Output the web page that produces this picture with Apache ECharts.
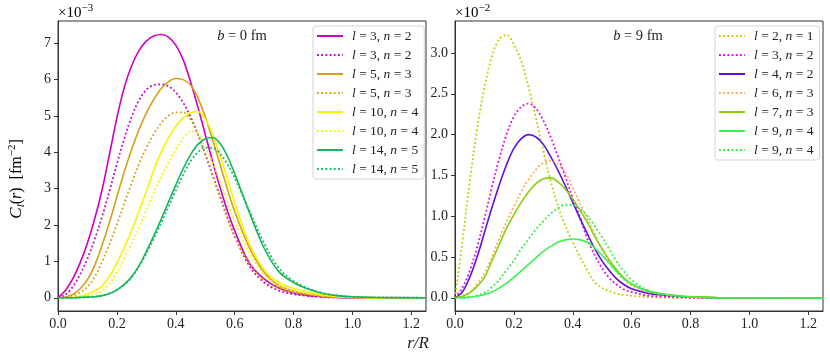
<!DOCTYPE html>
<html>
<head>
<meta charset="utf-8">
<script src="https://cdn.jsdelivr.net/npm/echarts@6/dist/echarts.min.js"></script>
<style>
  html, body { margin: 0; padding: 0; background: #fff; }
  #main { width: 830px; height: 361px; }
</style>
</head>
<body>
<div id="main"></div>
<script>
// r/R sample points shared by every curve
const rGrid = [0, 0.025, 0.05, 0.075, 0.1, 0.125, 0.15, 0.175, 0.2, 0.225, 0.25, 0.275, 0.3, 0.325, 0.35, 0.375,
  0.4, 0.425, 0.45, 0.475, 0.5, 0.525, 0.55, 0.575, 0.6, 0.65, 0.7, 0.75, 0.8, 0.85, 0.9, 0.95, 1.0, 1.1, 1.25]

// b = 0 fm, values in units of 1e-3 fm^-2
const b0_l3n2_solid = [0, 0.2, 0.52, 0.96, 1.51, 2.18, 2.98, 3.95, 4.95, 5.78, 6.38, 6.8, 7.06, 7.2, 7.24, 7.17,
  6.95, 6.55, 5.95, 5.25, 4.5, 3.75, 3.05, 2.4, 1.85, 0.95, 0.52, 0.27, 0.13, 0.06, 0.03, 0.01, 0, 0, 0]
const b0_l3n2_dot = [0, 0.08, 0.3, 0.64, 1.08, 1.62, 2.24, 2.94, 3.68, 4.38, 4.98, 5.43, 5.72, 5.85, 5.87, 5.82,
  5.65, 5.37, 4.98, 4.5, 3.95, 3.37, 2.8, 2.22, 1.7, 0.88, 0.42, 0.2, 0.1, 0.05, 0.02, 0.01, 0, 0, 0]
const b0_l5n3_solid = [0, 0.02, 0.09, 0.25, 0.5, 0.9, 1.45, 2.08, 2.78, 3.46, 4.08, 4.62, 5.08, 5.45, 5.75, 5.94,
  6.03, 6.0, 5.85, 5.5, 4.98, 4.35, 3.68, 3.0, 2.38, 1.38, 0.7, 0.34, 0.19, 0.1, 0.05, 0.02, 0.01, 0, 0]
const b0_l5n3_dot = [0, 0.01, 0.05, 0.15, 0.3, 0.58, 1.0, 1.48, 2.02, 2.6, 3.15, 3.68, 4.12, 4.5, 4.8, 5.0,
  5.1, 5.1, 4.9, 4.5, 3.98, 3.38, 2.77, 2.2, 1.7, 0.95, 0.48, 0.26, 0.15, 0.08, 0.04, 0.02, 0.01, 0, 0]
const b0_l10n4_solid = [0, 0, 0.01, 0.04, 0.1, 0.19, 0.33, 0.6, 0.95, 1.38, 1.85, 2.38, 2.93, 3.5, 4.0, 4.4,
  4.72, 4.95, 5.09, 5.12, 4.92, 4.5, 3.92, 3.28, 2.62, 1.48, 0.78, 0.42, 0.26, 0.15, 0.08, 0.04, 0.02, 0, 0]
const b0_l10n4_dot = [0, 0, 0.01, 0.03, 0.05, 0.1, 0.2, 0.38, 0.7, 1.1, 1.5, 1.92, 2.4, 2.88, 3.32, 3.72,
  4.08, 4.38, 4.58, 4.52, 4.15, 3.72, 3.2, 2.65, 2.12, 1.22, 0.64, 0.33, 0.2, 0.12, 0.06, 0.03, 0.01, 0, 0]
const b0_l14n5_solid = [0, 0, 0, 0.01, 0.02, 0.03, 0.06, 0.12, 0.22, 0.37, 0.58, 0.88, 1.27, 1.7, 2.15, 2.63,
  3.1, 3.55, 3.93, 4.22, 4.37, 4.41, 4.25, 3.9, 3.42, 2.35, 1.37, 0.72, 0.42, 0.24, 0.12, 0.06, 0.03, 0.01, 0]
const b0_l14n5_dot = [0, 0, 0, 0.01, 0.02, 0.03, 0.06, 0.12, 0.22, 0.36, 0.56, 0.86, 1.22, 1.62, 2.05, 2.5,
  2.95, 3.38, 3.75, 4.0, 4.13, 4.12, 3.97, 3.68, 3.3, 2.4, 1.5, 0.82, 0.46, 0.26, 0.13, 0.06, 0.03, 0.01, 0]

// b = 9 fm, values in units of 1e-2 fm^-2
const b9_l2n1_dot = [0, 0.68, 1.42, 2.07, 2.58, 2.95, 3.17, 3.22, 3.1, 2.9, 2.58, 2.2, 1.8, 1.43, 1.12, 0.88,
  0.68, 0.5, 0.33, 0.19, 0.12, 0.08, 0.05, 0.035, 0.025, 0.01, 0.005, 0, 0, 0, 0, 0, 0, 0, 0]
const b9_l3n2_dot = [0, 0.12, 0.33, 0.62, 0.97, 1.35, 1.7, 2.0, 2.22, 2.34, 2.38, 2.32, 2.17, 1.97, 1.73, 1.48,
  1.22, 0.98, 0.72, 0.52, 0.36, 0.24, 0.16, 0.1, 0.07, 0.03, 0.015, 0.01, 0, 0, 0, 0, 0, 0, 0]
const b9_l4n2_solid = [0, 0.07, 0.25, 0.5, 0.8, 1.1, 1.38, 1.63, 1.83, 1.95, 2.0, 1.97, 1.88, 1.73, 1.56, 1.37,
  1.17, 0.97, 0.78, 0.6, 0.45, 0.33, 0.23, 0.16, 0.11, 0.06, 0.035, 0.02, 0.01, 0.005, 0, 0, 0, 0, 0]
const b9_l6n3_dot = [0, 0.02, 0.07, 0.17, 0.3, 0.5, 0.72, 0.93, 1.12, 1.3, 1.45, 1.57, 1.65, 1.68, 1.64, 1.53,
  1.35, 1.15, 0.97, 0.78, 0.58, 0.44, 0.31, 0.22, 0.15, 0.08, 0.04, 0.02, 0.01, 0.005, 0, 0, 0, 0, 0]
const b9_l7n3_solid = [0, 0.02, 0.06, 0.14, 0.25, 0.45, 0.65, 0.85, 1.02, 1.17, 1.3, 1.4, 1.46, 1.47, 1.42, 1.33,
  1.21, 1.07, 0.92, 0.75, 0.6, 0.46, 0.34, 0.24, 0.17, 0.09, 0.05, 0.03, 0.015, 0.01, 0, 0, 0, 0, 0]
const b9_l9n4_solid = [0, 0, 0.01, 0.02, 0.04, 0.07, 0.12, 0.18, 0.25, 0.33, 0.41, 0.49, 0.57, 0.63, 0.68, 0.71,
  0.72, 0.71, 0.68, 0.61, 0.52, 0.42, 0.32, 0.23, 0.17, 0.09, 0.05, 0.025, 0.01, 0.005, 0, 0, 0, 0, 0]
const b9_l9n4_dot = [0, 0, 0.01, 0.03, 0.06, 0.13, 0.22, 0.34, 0.46, 0.6, 0.72, 0.84, 0.94, 1.03, 1.1, 1.14,
  1.14, 1.09, 1.0, 0.88, 0.74, 0.59, 0.44, 0.32, 0.22, 0.1, 0.05, 0.025, 0.01, 0.005, 0, 0, 0, 0, 0]

// tick labels
const xTicks = [0, 0.2, 0.4, 0.6, 0.8, 1.0, 1.2]
const yTicksLeft = [0, 1, 2, 3, 4, 5, 6, 7]
const yTicksRight = [0, 0.5, 1.0, 1.5, 2.0, 2.5, 3.0]

// [id, legend text (l, n), values, colour, dotted?]
const leftCurves = [
  ['L1', [3, 2], b0_l3n2_solid, '#c800c8', false],
  ['L2', [3, 2], b0_l3n2_dot, '#c800c8', true],
  ['L3', [5, 3], b0_l5n3_solid, '#d4a017', false],
  ['L4', [5, 3], b0_l5n3_dot, '#d4a017', true],
  ['L5', [10, 4], b0_l10n4_solid, '#f5f500', false],
  ['L6', [10, 4], b0_l10n4_dot, '#f5f500', true],
  ['L7', [14, 5], b0_l14n5_solid, '#12b85a', false],
  ['L8', [14, 5], b0_l14n5_dot, '#12b85a', true]
]
const rightCurves = [
  ['R1', [2, 1], b9_l2n1_dot, '#c8c800', true],
  ['R2', [3, 2], b9_l3n2_dot, '#ee00ee', true],
  ['R3', [4, 2], b9_l4n2_solid, '#6010d8', false],
  ['R4', [6, 3], b9_l6n3_dot, '#ffaa50', true],
  ['R5', [7, 3], b9_l7n3_solid, '#88d010', false],
  ['R6', [9, 4], b9_l9n4_solid, '#40f050', false],
  ['R7', [9, 4], b9_l9n4_dot, '#30f040', true]
]

const FONT = 'Liberation Serif'
const labels = {}
const series = []
function addCurves (list, idx) {
  list.forEach(([id, ln, vals, color, dotted]) => {
    labels[id] = '{i|l} = ' + ln[0] + ', {i|n} = ' + ln[1]
    series.push({
      name: id,
      type: 'line',
      xAxisIndex: idx,
      yAxisIndex: idx,
      data: rGrid.map((r, i) => [r, vals[i]]),
      smooth: 0.35,
      symbol: 'none',
      silent: true,
      lineStyle: { color, width: dotted ? 1.8 : 1.6, type: dotted ? [1.8, 2.4] : 'solid' },
      itemStyle: { color }
    })
  })
}
addCurves(leftCurves, 0)
addCurves(rightCurves, 1)

function xAxis (gridIndex) {
  return {
    type: 'value', gridIndex, min: 0, max: 1.25,
    axisLine: { show: true, onZero: false, lineStyle: { color: '#333', width: 1 } },
    axisTick: { show: true, inside: false, length: 4, customValues: xTicks, lineStyle: { color: '#333' } },
    axisLabel: { customValues: xTicks, formatter: v => v.toFixed(1), color: '#222', fontFamily: FONT, fontSize: 14, margin: 6 },
    splitLine: { show: false }
  }
}
function yAxis (gridIndex, min, max, ticks, digits) {
  return {
    type: 'value', gridIndex, min, max,
    axisLine: { show: true, onZero: false, lineStyle: { color: '#333', width: 1 } },
    axisTick: { show: true, inside: false, length: 4, customValues: ticks, lineStyle: { color: '#333' } },
    axisLabel: { customValues: ticks, formatter: v => v.toFixed(digits), color: '#222', fontFamily: FONT, fontSize: 14, margin: 7 },
    splitLine: { show: false }
  }
}
function legend (data, left) {
  return {
    data, left, top: 26, orient: 'vertical',
    itemWidth: 26, itemHeight: 12, itemGap: 5,
    padding: [3, 6, 3, 3],
    backgroundColor: 'rgba(255,255,255,0.8)',
    borderColor: '#d4d4d4', borderWidth: 1, borderRadius: 3,
    selectedMode: false,
    itemStyle: { opacity: 0 },
    formatter: name => labels[name],
    textStyle: {
      fontFamily: FONT, fontSize: 13.5, color: '#222', padding: [0, 0, 0, 4],
      rich: { i: { fontFamily: FONT, fontSize: 13.5, fontStyle: 'italic', color: '#222' } }
    }
  }
}

const supRich = {
  n: { fontFamily: FONT, fontSize: 15, color: '#222', lineHeight: 18, verticalAlign: 'bottom' },
  sup: { fontFamily: FONT, fontSize: 11, color: '#222', lineHeight: 8, verticalAlign: 'top' }
}

const chart = echarts.init(document.getElementById('main'), null, { renderer: 'canvas' })
chart.setOption({
  animation: false,
  backgroundColor: '#fff',
  grid: [
    { left: 58, right: 404, top: 21, bottom: 50, show: true, borderColor: '#333', borderWidth: 1 },
    { left: 455, right: 7, top: 21, bottom: 50, show: true, borderColor: '#333', borderWidth: 1 }
  ],
  xAxis: [xAxis(0), xAxis(1)],
  yAxis: [yAxis(0, -0.3625, 7.6125, yTicksLeft, 0), yAxis(1, -0.1615, 3.3915, yTicksRight, 1)],
  legend: [legend(leftCurves.map(c => c[0]), 313), legend(rightCurves.map(c => c[0]), 715)],
  series,
  graphic: [
    { type: 'text', x: 58, y: 12, style: { text: '{n|×10}{sup|−3}', rich: supRich, verticalAlign: 'middle' } },
    { type: 'text', x: 455, y: 12, style: { text: '{n|×10}{sup|−2}', rich: supRich, verticalAlign: 'middle' } },
    { type: 'text', x: 242, y: 36, style: { text: '{i|b} = 0 fm', align: 'center', verticalAlign: 'middle', fontFamily: FONT, fontSize: 14.5, fill: '#222', rich: { i: { fontFamily: FONT, fontSize: 14.5, fontStyle: 'italic' } } } },
    { type: 'text', x: 638, y: 36, style: { text: '{i|b} = 9 fm', align: 'center', verticalAlign: 'middle', fontFamily: FONT, fontSize: 14.5, fill: '#222', rich: { i: { fontFamily: FONT, fontSize: 14.5, fontStyle: 'italic' } } } },
    { type: 'text', x: 418, y: 344, style: { text: 'r/R', align: 'center', verticalAlign: 'middle', fontFamily: FONT, fontSize: 17, fontStyle: 'italic', fill: '#222' } },
    {
      type: 'text', x: 17, y: 179, rotation: Math.PI / 2,
      style: {
        text: '{c|C}{sub|l}{n|(}{i|r}{n|)  [fm}{sup|−2}{n|]}',
        align: 'center', verticalAlign: 'middle',
        rich: {
          c: { fontFamily: FONT, fontSize: 17, fontStyle: 'italic', color: '#222', lineHeight: 20, verticalAlign: 'middle' },
          i: { fontFamily: FONT, fontSize: 16, fontStyle: 'italic', color: '#222', lineHeight: 20, verticalAlign: 'middle' },
          n: { fontFamily: FONT, fontSize: 16, color: '#222', lineHeight: 20, verticalAlign: 'middle' },
          sub: { fontFamily: FONT, fontSize: 11, fontStyle: 'italic', color: '#222', lineHeight: 8, verticalAlign: 'bottom' },
          sup: { fontFamily: FONT, fontSize: 11, color: '#222', lineHeight: 8, verticalAlign: 'top' }
        }
      }
    }
  ]
})
</script>
</body>
</html>
